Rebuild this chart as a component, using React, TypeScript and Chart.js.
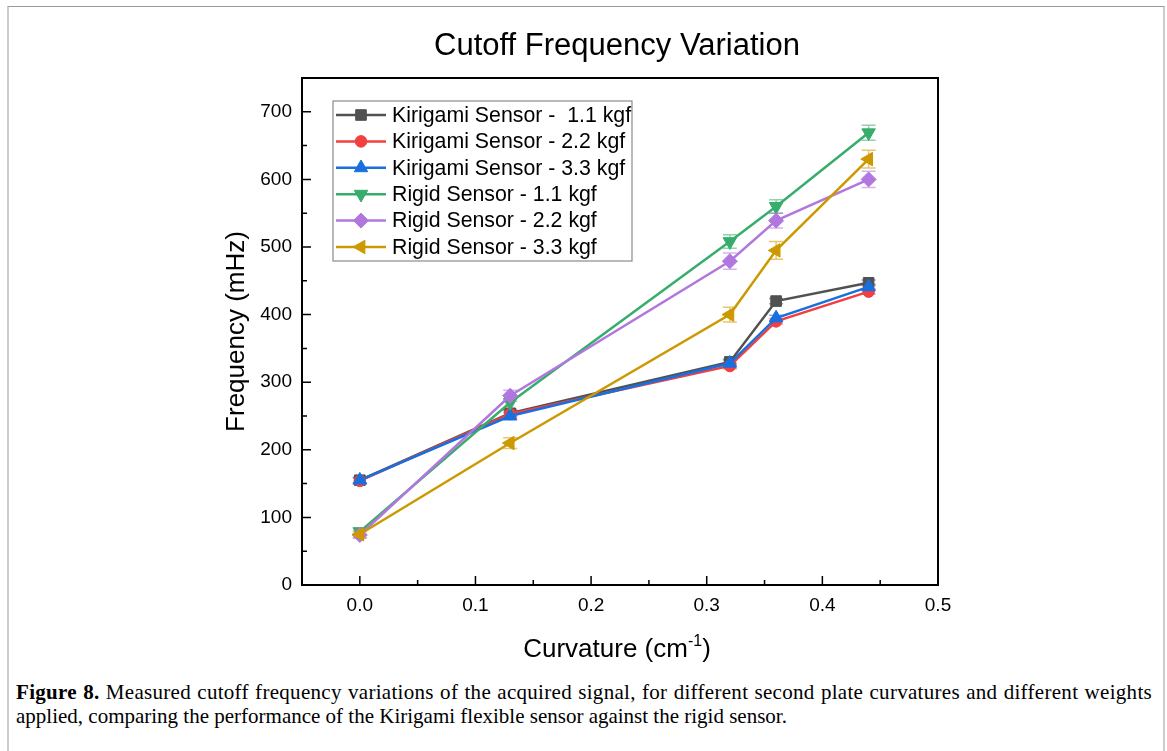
import React, { useEffect, useRef } from "react";
import { Chart, registerables } from "chart.js";
import { drawPoint } from "chart.js/helpers";

Chart.register(...registerables);

const curvature = [0, 0.13, 0.32, 0.36, 0.44];

const seriesLabels = [
  "Kirigami Sensor -  1.1 kgf",
  "Kirigami Sensor - 2.2 kgf",
  "Kirigami Sensor - 3.3 kgf",
  "Rigid Sensor - 1.1 kgf",
  "Rigid Sensor - 2.2 kgf",
  "Rigid Sensor - 3.3 kgf",
];

const kirigami11 = [155, 254, 330, 420, 447];
const kirigami22 = [154, 253, 324, 390, 434];
const kirigami33 = [155, 250, 328, 395, 441];
const rigid11 = [79, 270, 508, 560, 669];
const rigid22 = [74, 280, 479, 539, 600];
const rigid33 = [75, 210, 400, 495, 630];

const kirigami11Err = [4, 5, 4, 4, 4];
const kirigami22Err = [4, 5, 4, 4, 4];
const kirigami33Err = [4, 5, 4, 4, 4];
const rigid11Err = [5, 10, 10, 10, 11];
const rigid22Err = [5, 8, 12, 11, 12];
const rigid33Err = [5, 8, 11, 13, 13];

const xTickValues = [0, 0.1, 0.2, 0.3, 0.4, 0.5];
const yTickValues = [0, 100, 200, 300, 400, 500, 600, 700];
const xMinorValues = [-0.05, 0.05, 0.15, 0.25, 0.35, 0.45];
const yMinorValues = [50, 150, 250, 350, 450, 550, 650, 750];

const seriesValues = [kirigami11, kirigami22, kirigami33, rigid11, rigid22, rigid33];
const seriesErrors = [kirigami11Err, kirigami22Err, kirigami33Err, rigid11Err, rigid22Err, rigid33Err];
const seriesColors = ["#515151", "#F14040", "#1A6FDF", "#37AD6B", "#B177DE", "#CC9900"];
const seriesMarkers = ["rect", "circle", "triangle", "triangle", "rectRot", "triangle"];
const seriesRotation = [0, 0, 0, 180, 0, -90];
const seriesRadius = [7.5, 5.8, 7.8, 7.8, 7.5, 7.8];

const FONT = "'Liberation Sans', Arial, Helvetica, sans-serif";

function hexAlpha(hex: string, a: number) {
  const r = parseInt(hex.slice(1, 3), 16);
  const g = parseInt(hex.slice(3, 5), 16);
  const b = parseInt(hex.slice(5, 7), 16);
  return `rgba(${r},${g},${b},${a})`;
}

const errorBarPlugin = {
  id: "errorBars",
  beforeDatasetsDraw(chart: any) {
    const ctx = chart.ctx;
    const xs = chart.scales.x;
    const ys = chart.scales.y;
    ctx.save();
    chart.data.datasets.forEach((ds: any, i: number) => {
      const errs = seriesErrors[i];
      ctx.strokeStyle = hexAlpha(seriesColors[i], 0.55);
      ctx.lineWidth = 1.5;
      ds.data.forEach((p: any, j: number) => {
        const px = xs.getPixelForValue(p.x);
        const top = ys.getPixelForValue(p.y + errs[j]);
        const bot = ys.getPixelForValue(p.y - errs[j]);
        ctx.beginPath();
        ctx.moveTo(px, top);
        ctx.lineTo(px, bot);
        ctx.moveTo(px - 7, top);
        ctx.lineTo(px + 7, top);
        ctx.moveTo(px - 7, bot);
        ctx.lineTo(px + 7, bot);
        ctx.stroke();
      });
    });
    ctx.restore();
  },
};

const decorPlugin = {
  id: "decor",
  afterDraw(chart: any) {
    const ctx = chart.ctx;
    const a = chart.chartArea;
    const xs = chart.scales.x;
    const ys = chart.scales.y;
    ctx.save();
    // frame
    ctx.strokeStyle = "#000";
    ctx.lineWidth = 2;
    ctx.strokeRect(a.left, a.top, a.right - a.left, a.bottom - a.top);
    // ticks (inward)
    ctx.lineWidth = 1.5;
    ctx.beginPath();
    xTickValues.forEach((v) => {
      const px = xs.getPixelForValue(v);
      ctx.moveTo(px, a.bottom);
      ctx.lineTo(px, a.bottom - 9);
    });
    xMinorValues.forEach((v) => {
      const px = xs.getPixelForValue(v);
      ctx.moveTo(px, a.bottom);
      ctx.lineTo(px, a.bottom - 5);
    });
    yTickValues.forEach((v) => {
      const py = ys.getPixelForValue(v);
      ctx.moveTo(a.left, py);
      ctx.lineTo(a.left + 9, py);
    });
    yMinorValues.forEach((v) => {
      const py = ys.getPixelForValue(v);
      ctx.moveTo(a.left, py);
      ctx.lineTo(a.left + 5, py);
    });
    ctx.stroke();

    // title
    ctx.fillStyle = "#000";
    ctx.font = `31px ${FONT}`;
    ctx.textAlign = "center";
    ctx.textBaseline = "middle";
    ctx.fillText("Cutoff Frequency Variation", 617, 46);

    // y title
    ctx.save();
    ctx.translate(237, (a.top + a.bottom) / 2);
    ctx.rotate(-Math.PI / 2);
    ctx.font = `26px ${FONT}`;
    ctx.fillText("Frequency (mHz)", 0, 0);
    ctx.restore();

    // x title with superscript
    const main1 = "Curvature (cm";
    const sup = "-1";
    const main2 = ")";
    ctx.font = `26px ${FONT}`;
    const w1 = ctx.measureText(main1).width;
    const w3 = ctx.measureText(main2).width;
    ctx.font = `16px ${FONT}`;
    const w2 = ctx.measureText(sup).width;
    const total = w1 + w2 + w3;
    let sx = 617 - total / 2;
    const by = 657;
    ctx.textAlign = "left";
    ctx.textBaseline = "alphabetic";
    ctx.font = `26px ${FONT}`;
    ctx.fillText(main1, sx, by);
    sx += w1;
    ctx.font = `16px ${FONT}`;
    ctx.fillText(sup, sx, by - 11);
    sx += w2;
    ctx.font = `26px ${FONT}`;
    ctx.fillText(main2, sx, by);

    // legend
    const lx = 333, ly = 101, lw = 299, lh = 160;
    ctx.fillStyle = "#fff";
    ctx.fillRect(lx, ly, lw, lh);
    ctx.strokeStyle = "#8a8a8a";
    ctx.lineWidth = 1.2;
    ctx.strokeRect(lx, ly, lw, lh);
    ctx.font = `21.3px ${FONT}`;
    ctx.textBaseline = "middle";
    ctx.textAlign = "left";
    seriesLabels.forEach((lab, i) => {
      const cy = 115 + i * 26.4;
      ctx.strokeStyle = seriesColors[i];
      ctx.lineWidth = 2.5;
      ctx.beginPath();
      ctx.moveTo(336, cy);
      ctx.lineTo(386, cy);
      ctx.stroke();
      ctx.fillStyle = seriesColors[i];
      ctx.strokeStyle = seriesColors[i];
      ctx.lineWidth = 1;
      drawPoint(ctx, {
        pointStyle: seriesMarkers[i],
        radius: seriesRadius[i],
        rotation: seriesRotation[i],
        borderWidth: 1,
      } as any, 361, cy);
      ctx.fillStyle = "#000";
      ctx.fillText(lab, 392, cy + 1);
    });
    ctx.restore();
  },
};

export default function App() {
  const ref = useRef<HTMLCanvasElement | null>(null);

  useEffect(() => {
    if (!ref.current) return;
    Chart.defaults.font.family = FONT;
    const datasets = seriesValues.map((vals, i) => ({
      label: seriesLabels[i],
      data: curvature.map((c, j) => ({ x: c, y: vals[j] })),
      borderColor: seriesColors[i],
      backgroundColor: seriesColors[i],
      borderWidth: 2.5,
      pointStyle: seriesMarkers[i],
      pointRotation: seriesRotation[i],
      pointRadius: seriesRadius[i],
      pointBorderWidth: 1,
      pointBackgroundColor: seriesColors[i],
      pointBorderColor: seriesColors[i],
      tension: 0,
      order: -i,
    }));
    const chart = new Chart(ref.current, {
      type: "line",
      data: { datasets },
      options: {
        animation: false,
        responsive: false,
        devicePixelRatio: 1,
        layout: { padding: { top: 78, right: 229, left: 0, bottom: 0 } },
        plugins: {
          legend: { display: false },
          title: { display: false },
          tooltip: { enabled: false },
        },
        scales: {
          x: {
            type: "linear",
            min: -0.05,
            max: 0.5,
            afterBuildTicks: (s: any) => {
              s.ticks = xTickValues.map((v) => ({ value: v }));
            },
            afterFit: (s: any) => {
              s.height = 95;
            },
            grid: { display: false, drawTicks: false },
            border: { display: false },
            ticks: {
              color: "#000",
              font: { size: 19 },
              padding: 9,
              maxRotation: 0,
              autoSkip: false,
              callback: (v: any) => Number(v).toFixed(1),
            },
          },
          y: {
            type: "linear",
            min: 0,
            max: 750,
            afterBuildTicks: (s: any) => {
              s.ticks = yTickValues.map((v) => ({ value: v }));
            },
            afterFit: (s: any) => {
              s.width = 302;
            },
            grid: { display: false, drawTicks: false },
            border: { display: false },
            ticks: {
              color: "#000",
              font: { size: 19 },
              padding: 10,
              autoSkip: false,
              callback: (v: any) => String(v),
            },
          },
        },
      },
      plugins: [errorBarPlugin, decorPlugin],
    });
    return () => chart.destroy();
  }, []);

  return (
    <div style={{ position: "absolute", left: 0, top: 0, width: 1167, height: 751, background: "#fff", overflow: "hidden" }}>
      <div
        style={{
          position: "absolute",
          left: 7,
          top: 6,
          width: 1154,
          height: 800,
          borderTop: "1px solid #999",
          borderLeft: "2px solid #ccc",
          borderRight: "2px solid #ccc",
        }}
      />
      <canvas ref={ref} width={1167} height={680} style={{ position: "absolute", left: 0, top: 0, width: 1167, height: 680 }} />
      <div
        style={{
          position: "absolute",
          left: 16,
          top: 680,
          width: 1136,
          fontFamily: "'Liberation Serif', 'Times New Roman', serif",
          fontSize: 21,
          lineHeight: "24px",
          color: "#000",
        }}
      >
        <div style={{ textAlign: "justify", textAlignLast: "justify", letterSpacing: "0.3px" } as any}>
          <b>Figure 8.</b> Measured cutoff frequency variations of the acquired signal, for different second plate curvatures and different weights
        </div>
        <div style={{ whiteSpace: "nowrap" }}>applied, comparing the performance of the Kirigami flexible sensor against the rigid sensor.</div>
      </div>
    </div>
  );
}
